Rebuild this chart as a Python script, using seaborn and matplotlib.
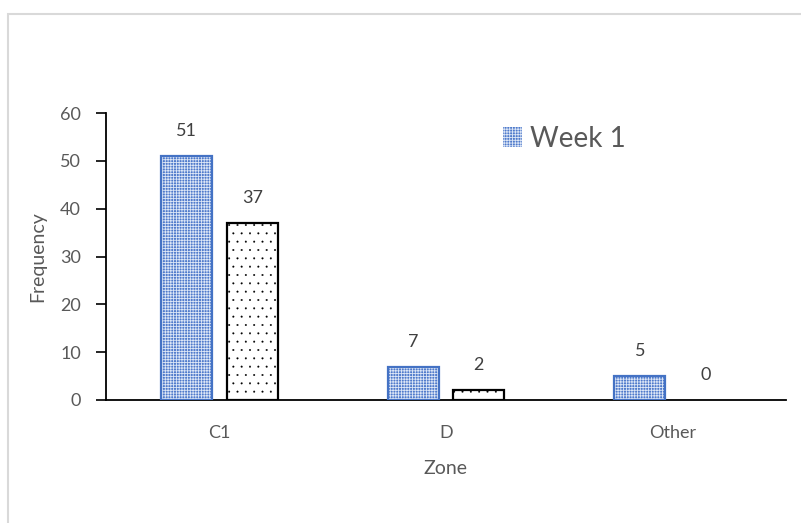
import matplotlib
matplotlib.use("Agg")
import matplotlib.pyplot as plt
from matplotlib.patches import Rectangle
import seaborn as sns
import pandas as pd

zones = ["C1", "D", "Other"]
week1 = [51, 7, 5]
week2 = [37, 2, 0]
series_names = ["Week 1", "Week 2"]
y_ticks = [0, 10, 20, 30, 40, 50, 60]

df = pd.DataFrame({
    "Zone": zones * 2,
    "Frequency": week1 + week2,
    "Series": [series_names[0]] * len(zones) + [series_names[1]] * len(zones),
})

sns.set_theme(style="white")
plt.rcParams["font.family"] = ["Lato", "DejaVu Sans"]
plt.rcParams["hatch.linewidth"] = 0.6

text_gray = "#595959"
blue = "#4472C4"

fig = plt.figure(figsize=(8.01, 5.23), dpi=100)
ax = fig.add_axes([106 / 801, 1 - 400 / 523, 680 / 801, 287 / 523])

sns.barplot(data=df, x="Zone", y="Frequency", hue="Series", order=zones,
            hue_order=series_names, palette=[blue, "white"],
            width=0.58, gap=0.224, legend=False, ax=ax)

styles = {
    series_names[0]: dict(face="#4f7acb", hatch="++++++", hatch_col="#dce6f6",
                          border=blue, hlw=0.6),
    series_names[1]: dict(face="white", hatch="..", hatch_col="black",
                          border="black", hlw=0.2),
}

for container, name in zip(ax.containers, series_names):
    st = styles[name]
    for bar, val in zip(container.patches, df[df["Series"] == name]["Frequency"]):
        bar.set_facecolor(st["face"])
        bar.set_edgecolor(st["hatch_col"])
        bar.set_hatch(st["hatch"])
        if hasattr(bar, "set_hatch_linewidth"):
            bar.set_hatch_linewidth(st["hlw"])
        else:
            bar._hatch_linewidth = st["hlw"]
        bar.set_linewidth(0)
        x, w, h = bar.get_x(), bar.get_width(), bar.get_height()
        if h > 0:
            ax.add_patch(Rectangle((x, 0), w, h, fill=False,
                                   edgecolor=st["border"], linewidth=1.6, zorder=3))
        ax.annotate(f"{val}", (x + w / 2, h), xytext=(0, 18),
                    textcoords="offset points", ha="center", va="center",
                    fontsize=13, color="#404040")

ax.set_ylim(0, 60)
ax.set_yticks(y_ticks)
ax.set_xlim(-0.5, 2.5)
ax.tick_params(axis="y", which="major", direction="out", length=7, width=1.2,
               color="black", labelsize=13, labelcolor=text_gray, pad=11, left=True)
ax.tick_params(axis="x", length=0, labelsize=13, labelcolor=text_gray, pad=18)
for side in ["top", "right"]:
    ax.spines[side].set_visible(False)
for side in ["left", "bottom"]:
    ax.spines[side].set_color("black")
    ax.spines[side].set_linewidth(1.3)

ax.set_xlabel("Zone", fontsize=14, color=text_gray, labelpad=14)
ax.set_ylabel("Frequency", fontsize=14, color=text_gray, labelpad=10)

# legend shows only the first series
handle = Rectangle((0, 0), 1, 1, facecolor=styles[series_names[0]]["face"],
                   hatch=styles[series_names[0]]["hatch"],
                   edgecolor=styles[series_names[0]]["hatch_col"], linewidth=0)
leg = ax.legend([handle], [series_names[0]], loc="upper left",
                bbox_to_anchor=(0.567, 0.995), frameon=False, fontsize=20,
                handlelength=0.7, handleheight=0.7, handletextpad=0.3,
                borderaxespad=0)
for t in leg.get_texts():
    t.set_color(text_gray)

# outer chart border
fig.patches.append(Rectangle((8 / 801, -0.1), 1.2, (1 - 14 / 523) + 0.1,
                             transform=fig.transFigure, fill=False,
                             edgecolor="#d9d9d9", linewidth=1.5))

fig.savefig("out.png", dpi=100)
